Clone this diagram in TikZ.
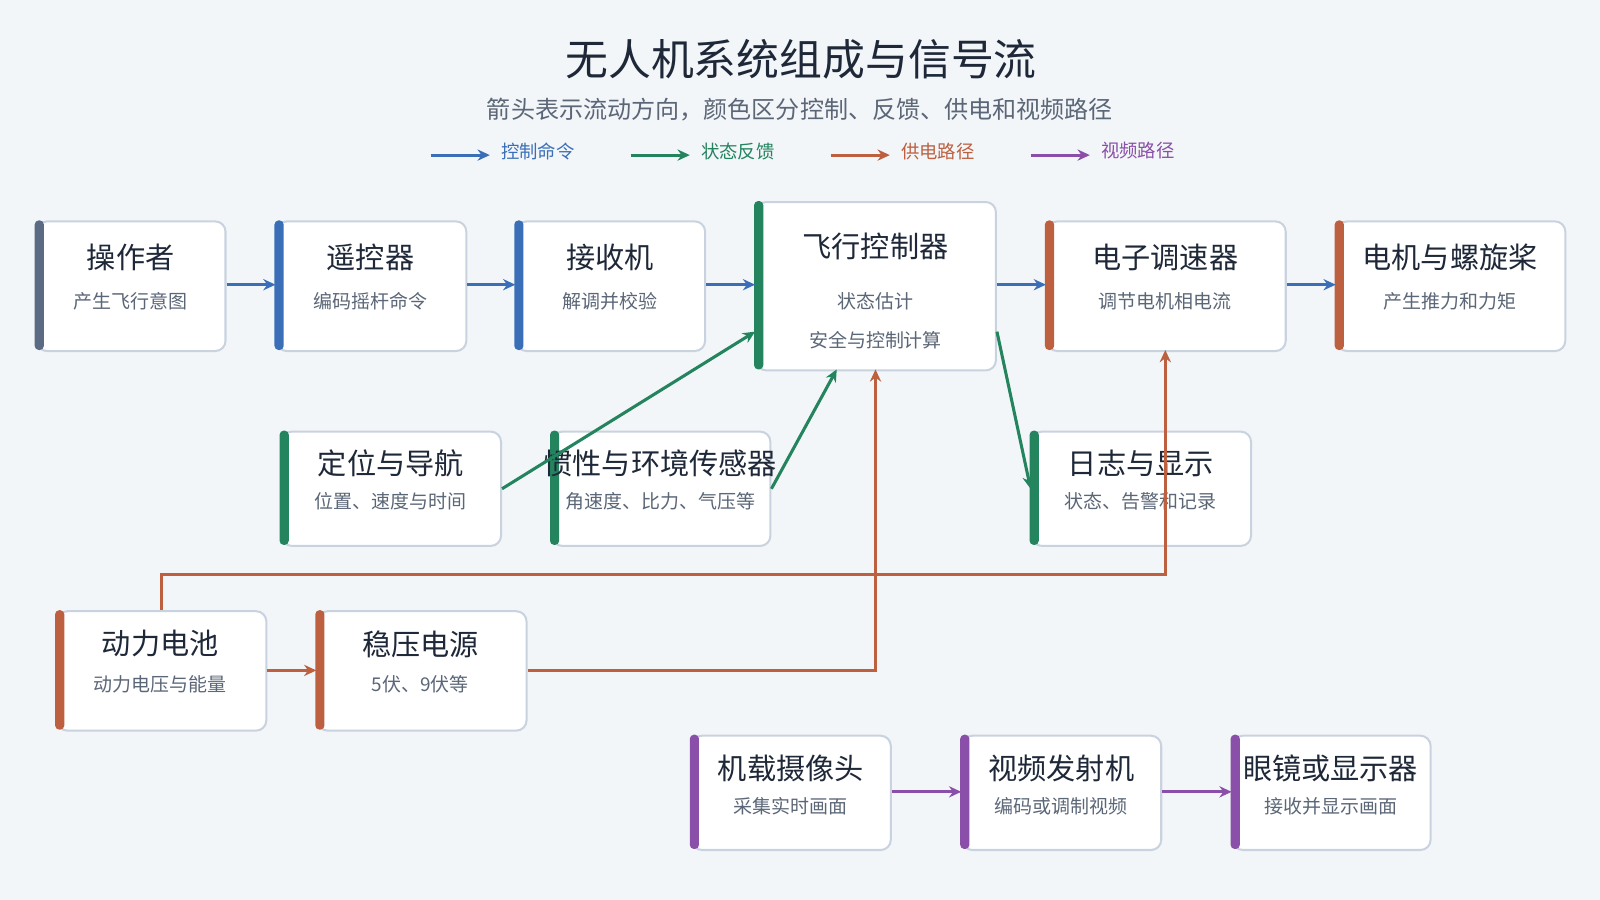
\documentclass[tikz,border=0pt]{standalone}
\usepackage{fontspec}
\setmainfont{Noto Sans CJK SC}
\usetikzlibrary{arrows.meta}
\definecolor{bg}{HTML}{F3F6F9}
\definecolor{cb}{HTML}{3A6FB8}
\definecolor{cg}{HTML}{23845E}
\definecolor{co}{HTML}{BC6040}
\definecolor{cp}{HTML}{8A4FA8}
\definecolor{cs}{HTML}{5B6B84}
\definecolor{bd}{HTML}{C9D3E0}
\definecolor{tx}{HTML}{1E2838}
\definecolor{st}{HTML}{5B6677}
\tikzset{
 box/.style={draw=bd,line width=1pt,fill=white,rounded corners=5pt,inner sep=0pt},
 ttl/.style={font=\fontsize{14.3}{16}\selectfont,text=tx},
 sub/.style={font=\fontsize{9.3}{11}\selectfont,text=st},
 arr/.style={line width=1.5pt,-{Stealth[length=6pt,width=5.5pt]}},
}
\newcommand\mybox[6]{%
 \node[box,anchor=north west,minimum width={(#4-#2)*0.5pt},minimum height={(#5-#3)*0.5pt}] (#1) at (#2,#3) {};
 \fill[#6,rounded corners=2pt] (#2-1,#3) rectangle (#2+8,#5);
}
\begin{document}
\begin{tikzpicture}[x=0.5pt,y=-0.5pt]
\fill[bg] (0,0) rectangle (1568,882);
\useasboundingbox (0,0) rectangle (1568,882);
\node[font=\fontsize{21}{25}\selectfont,text=tx] (title) at (785,58) {无人机系统组成与信号流};
\node[font=\fontsize{11.8}{14}\selectfont,text=st] (subt) at (784,107) {箭头表示流动方向，颜色区分控制、反馈、供电和视频路径};
% legend
\foreach \x/\c/\t/\n in {422/cb/控制命令/la,618/cg/状态反馈/lb,814/co/供电路径/lc,1010/cp/视频路径/ld}{
 \coordinate (\n1) at (\x,152); \coordinate (\n2) at (\x+58,152);
 \draw[arr,\c] (\n1) -- (\n2);
 \node[anchor=west,text=\c,font=\fontsize{9}{11}\selectfont] (\n t) at (\x+62,148) {\t};
}
\mybox{op}{35}{216}{220}{343}{cs}
\mybox{rc}{270}{216}{456}{343}{cb}
\mybox{rx}{505}{216}{690}{343}{cb}
\mybox{fc}{740}{197}{975}{362}{cg}
\mybox{esc}{1025}{216}{1259}{343}{co}
\mybox{mot}{1309}{216}{1533}{343}{co}
\mybox{gps}{275}{422}{490}{534}{cg}
\mybox{imu}{540}{422}{754}{534}{cg}
\mybox{log}{1010}{422}{1225}{534}{cg}
\mybox{bat}{55}{598}{260}{715}{co}
\mybox{reg}{310}{598}{515}{715}{co}
\mybox{cam}{677}{720}{872}{832}{cp}
\mybox{vtx}{942}{720}{1137}{832}{cp}
\mybox{gog}{1207}{720}{1401}{832}{cp}
% texts
\node[ttl] (t1) at (128,252) {操作者}; \node[sub] (s1) at (128,295) {产生飞行意图};
\node[ttl] (t2) at (363,252) {遥控器}; \node[sub] (s2) at (363,295) {编码摇杆命令};
\node[ttl] (t3) at (598,252) {接收机}; \node[sub] (s3) at (598,295) {解调并校验};
\node[ttl] (t4) at (858,242) {飞行控制器}; \node[sub] (s4) at (858,295) {状态估计};
\node[sub] (s4b) at (858,333) {安全与控制计算};
\node[ttl] (t5) at (1142,252) {电子调速器}; \node[sub] (s5) at (1142,295) {调节电机相电流};
\node[ttl] (t6) at (1421,252) {电机与螺旋桨}; \node[sub] (s6) at (1421,295) {产生推力和力矩};
\node[ttl] (t7) at (383,454) {定位与导航}; \node[sub] (s7) at (383,491) {位置、速度与时间};
\node[ttl] (t8) at (647,454) {惯性与环境传感器}; \node[sub] (s8) at (647,491) {角速度、比力、气压等};
\node[ttl] (t9) at (1118,454) {日志与显示}; \node[sub] (s9) at (1118,491) {状态、告警和记录};
\node[ttl] (t10) at (157,631) {动力电池}; \node[sub] (s10) at (157,671) {动力电压与能量};
\node[ttl] (t11) at (412,631) {稳压电源}; \node[sub] (s11) at (412,671) {5伏、9伏等};
\node[ttl] (t12) at (775,753) {机载摄像头}; \node[sub] (s12) at (775,790) {采集实时画面};
\node[ttl] (t13) at (1040,753) {视频发射机}; \node[sub] (s13) at (1040,790) {编码或调制视频};
\node[ttl] (t14) at (1304,753) {眼镜或显示器}; \node[sub] (s14) at (1304,790) {接收并显示画面};
% control
\draw[arr,cb] (op.east |- 0,279) -- (rc.west |- 0,279);
\draw[arr,cb] (rc.east |- 0,279) -- (rx.west |- 0,279);
\draw[arr,cb] (rx.east |- 0,279) -- (fc.west |- 0,279);
\draw[arr,cb] (fc.east |- 0,279) -- (esc.west |- 0,279);
\draw[arr,cb] (esc.east |- 0,279) -- (mot.west |- 0,279);
% feedback
\draw[arr,cg] (gps.east) -- (fc.west |- 0,325);
\draw[arr,cg] (imu.east) -- (820,362);
\draw[arr,cg] (fc.east |- 0,325) -- (log.west);
% power
\draw[arr,co] (bat.east |- 0,657) -- (reg.west |- 0,657);
\draw[arr,co] (reg.east |- 0,657) -| (858,362);
\draw[arr,co] (bat.north) |- (1142,563) -- (1142,343);
% video
\draw[arr,cp] (cam.east |- 0,776) -- (vtx.west |- 0,776);
\draw[arr,cp] (vtx.east |- 0,776) -- (gog.west |- 0,776);
\end{tikzpicture}
\end{document}
